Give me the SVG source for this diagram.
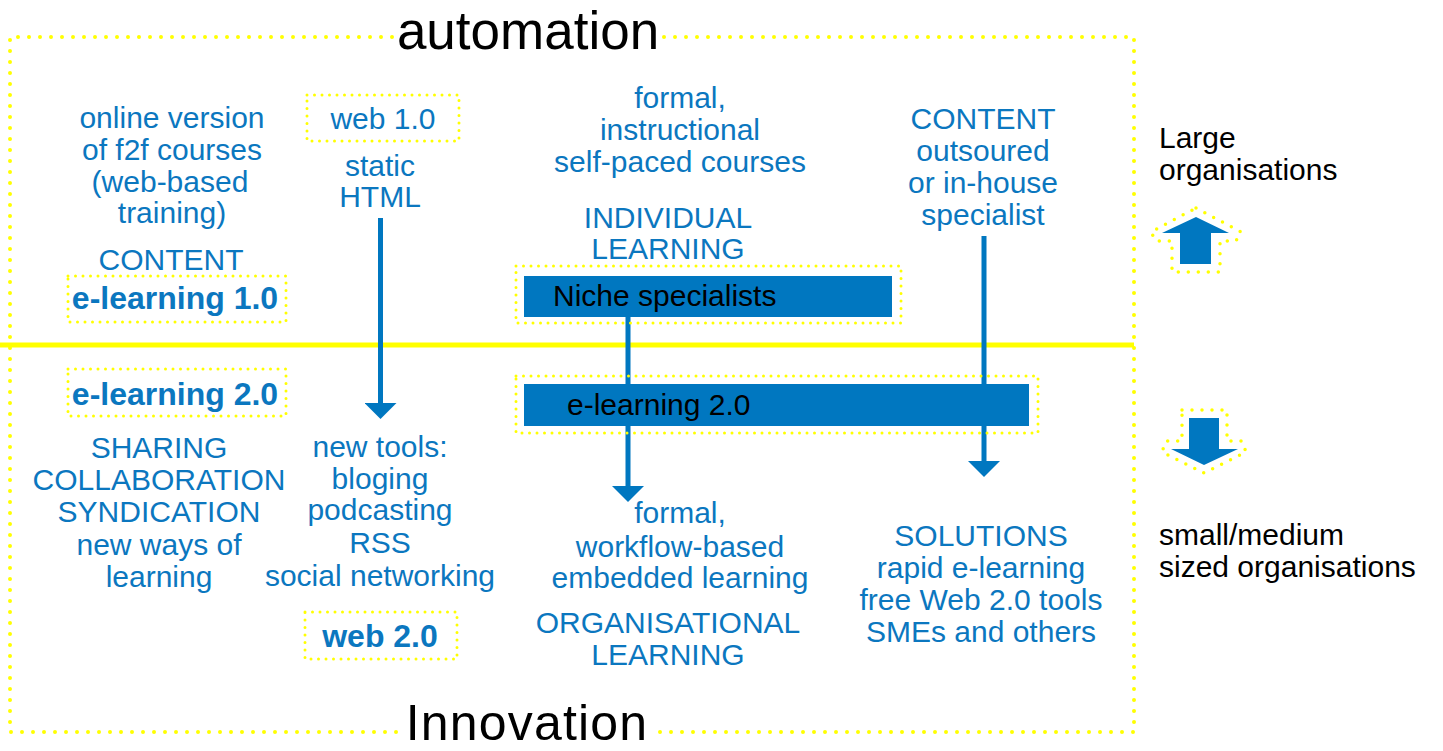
<svg xmlns="http://www.w3.org/2000/svg" width="1443" height="751" viewBox="0 0 1443 751">
<defs>
<style>
text{font-family:"Liberation Sans",Arial,sans-serif;font-size:30px}
.b{fill:#0B77BF}
.c{text-anchor:middle}
.k{fill:#000}
.bold{font-weight:bold;font-size:32px}
.title{font-size:53px;fill:#000;text-anchor:middle}
.frame{fill:none;stroke:#FFFF00;stroke-width:4;stroke-linecap:round;stroke-dasharray:0 11}
.sbox{fill:none;stroke:#FFFF00;stroke-width:3;stroke-linecap:round;stroke-dasharray:0 7.5}
.abox{fill:none;stroke:#FFFF00;stroke-width:3.5;stroke-linecap:round;stroke-dasharray:0 10}
.bar{fill:#0077C0}
.conn{stroke:#0077C0;stroke-width:5;fill:none}
</style>
<marker id="ah" markerUnits="userSpaceOnUse" markerWidth="16" markerHeight="32" viewBox="0 0 16 32" refX="0" refY="16" orient="auto">
<path d="M0,0 L16,16 L0,32 z" fill="#0077C0"/>
</marker>
</defs>
<rect width="1443" height="751" fill="#fff"/>

<g id="frame">
<path class="frame" d="M392,37 L10,37 L10,732 L398,732 M664,37 L1134,37 L1134,732 L652,732"/>
<line x1="0" y1="345" x2="1134" y2="345" stroke="#FFFF00" stroke-width="5"/>
<text class="title" x="528" y="49">automation</text>
<text class="title" x="527" y="740" style="font-size:50px;letter-spacing:1.2px">Innovation</text>
</g>

<g id="connectors">
<line class="conn" x1="380.5" y1="218" x2="380.5" y2="403" marker-end="url(#ah)"/>
<line class="conn" x1="628" y1="316" x2="628" y2="486" marker-end="url(#ah)"/>
<line class="conn" x1="984" y1="236" x2="984" y2="461" marker-end="url(#ah)"/>
</g>

<g id="elearning1-content">
<text class="b c" x="172" y="128">online version</text>
<text class="b c" x="172" y="160">of f2f courses</text>
<text class="b c" x="170" y="192">(web-based</text>
<text class="b c" x="172" y="223">training)</text>
<text class="b c" x="171" y="270">CONTENT</text>
</g>
<g id="elearning1">
<rect class="sbox" x="68" y="276" width="218" height="46"/>
<text class="b c bold" x="175" y="309">e-learning 1.0</text>
</g>

<g id="web1">
<rect class="sbox" x="307" y="95" width="152" height="46"/>
<text class="b c" x="383" y="129">web 1.0</text>
</g>
<g id="static-html">
<text class="b c" x="380" y="176">static</text>
<text class="b c" x="380" y="207">HTML</text>
</g>

<g id="formal-instructional">
<text class="b c" x="680" y="108">formal,</text>
<text class="b c" x="680" y="140">instructional</text>
<text class="b c" x="680" y="172">self-paced courses</text>
<text class="b c" x="668" y="228">INDIVIDUAL</text>
<text class="b c" x="668" y="259">LEARNING</text>
</g>

<g id="content-outsourced">
<text class="b c" x="983" y="129">CONTENT</text>
<text class="b c" x="983" y="161">outsoured</text>
<text class="b c" x="983" y="193">or in-house</text>
<text class="b c" x="983" y="225">specialist</text>
</g>

<g id="niche">
<rect class="sbox" x="516" y="266" width="385" height="57"/>
<rect class="bar" x="524" y="276" width="368" height="41"/>
<text class="k" x="553" y="306">Niche specialists</text>
</g>

<g id="elearning2-bar">
<rect class="sbox" x="516" y="376" width="522" height="57"/>
<rect class="bar" x="524" y="384" width="505" height="42"/>
<text class="k" x="567" y="415">e-learning 2.0</text>
</g>

<g id="elearning2">
<rect class="sbox" x="68" y="369" width="218" height="47"/>
<text class="b c bold" x="175" y="405">e-learning 2.0</text>
</g>
<g id="sharing">
<text class="b c" x="159" y="458">SHARING</text>
<text class="b c" x="159" y="490">COLLABORATION</text>
<text class="b c" x="159" y="522">SYNDICATION</text>
<text class="b c" x="159" y="555">new ways of</text>
<text class="b c" x="159" y="587">learning</text>
</g>

<g id="new-tools">
<text class="b c" x="380" y="457">new tools:</text>
<text class="b c" x="380" y="489">bloging</text>
<text class="b c" x="380" y="520">podcasting</text>
<text class="b c" x="380" y="553">RSS</text>
<text class="b c" x="380" y="586">social networking</text>
</g>
<g id="web2">
<rect class="sbox" x="305" y="612" width="152" height="47"/>
<text class="b c bold" x="380" y="647">web 2.0</text>
</g>

<g id="formal-workflow">
<text class="b c" x="680" y="523">formal,</text>
<text class="b c" x="680" y="557">workflow-based</text>
<text class="b c" x="680" y="588">embedded learning</text>
<text class="b c" x="668" y="633">ORGANISATIONAL</text>
<text class="b c" x="668" y="665">LEARNING</text>
</g>

<g id="solutions">
<text class="b c" x="981" y="546">SOLUTIONS</text>
<text class="b c" x="981" y="578">rapid e-learning</text>
<text class="b c" x="981" y="610">free Web 2.0 tools</text>
<text class="b c" x="981" y="642">SMEs and others</text>
</g>

<g id="large-orgs">
<text class="k" x="1159" y="148">Large</text>
<text class="k" x="1159" y="180">organisations</text>
<polygon class="abox" points="1196,208 1241,232 1236,241 1220,241 1220,272 1172,272 1172,241 1156,241 1151,232"/>
<polygon class="bar" points="1196,217 1229,233 1211,233 1211,264 1180,264 1180,233 1162,233"/>
</g>

<g id="small-orgs">
<polygon class="abox" points="1182,410 1227,410 1227,441 1242,441 1246,452 1204,473 1162,452 1166,441 1182,441"/>
<polygon class="bar" points="1189,418 1219,418 1219,449 1238,449 1204,465 1171,449 1189,449"/>
<text class="k" x="1159" y="545">small/medium</text>
<text class="k" x="1159" y="577">sized organisations</text>
</g>
</svg>
